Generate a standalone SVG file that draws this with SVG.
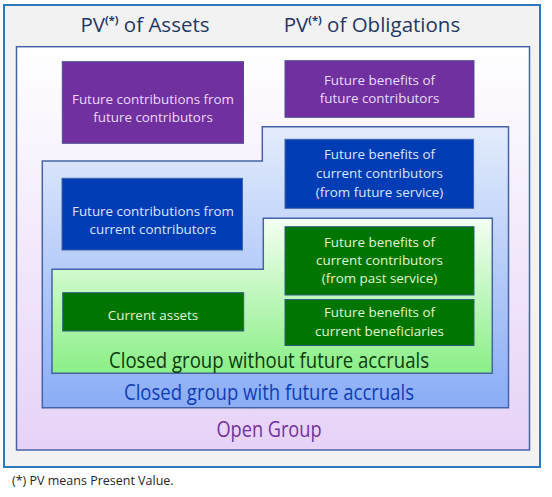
<svg xmlns="http://www.w3.org/2000/svg" width="552" height="497" viewBox="0 0 552 497">
<defs>
<linearGradient id="gOpen" x1="0" y1="0" x2="0" y2="1"><stop offset="0" stop-color="#ffffff"/><stop offset="1" stop-color="#e6d2f7"/></linearGradient>
<linearGradient id="gBlue" x1="0" y1="0" x2="0" y2="1"><stop offset="0" stop-color="#e3ecfc"/><stop offset="1" stop-color="#8aadf6"/></linearGradient>
<linearGradient id="gGreen" x1="0" y1="0" x2="0" y2="1"><stop offset="0" stop-color="#f4fff2"/><stop offset="1" stop-color="#8aef86"/></linearGradient>
<style>
text{font-family:"Open Sans","Liberation Sans",sans-serif;text-anchor:middle}
.title{font-size:20.5px;fill:#1f3864}
.sup{font-size:11px;font-weight:bold}
.node text{font-size:13.4px}
.purple rect{fill:#7030a0;stroke:#4a4f96;stroke-width:1}
.purple text{fill:#eadcf6}
.blue rect{fill:#003cb4;stroke:#3c62a6;stroke-width:1}
.blue text{fill:#dce6ff}
.green rect{fill:#007500;stroke:#2f5f86;stroke-width:1}
.green text{fill:#e0f5d0}
.grp{stroke:#4663a6;stroke-width:1.5}
.lbl{font-size:21px}
</style>
</defs>
<rect x="4" y="5" width="536" height="462" fill="#f2f2f2" stroke="#2e78c0" stroke-width="2"/>
<text class="title" x="145" y="32">PV<tspan class="sup" dy="-8">(*)</tspan><tspan dy="8"> of Assets</tspan></text>
<text class="title" x="372" y="32">PV<tspan class="sup" dy="-8">(*)</tspan><tspan dy="8"> of Obligations</tspan></text>

<g id="open-group">
<rect class="grp" x="16.5" y="46.7" width="513" height="403.3" fill="url(#gOpen)"/>
<text class="lbl" x="269" y="436.7" fill="#7030a0" textLength="105" lengthAdjust="spacingAndGlyphs">Open Group</text>
</g>
<g id="closed-with">
<path class="grp" d="M42.3,161 H262.3 V126.7 H508.5 V407.7 H42.3 Z" fill="url(#gBlue)"/>
<text class="lbl" x="269" y="400" fill="#0d3db5" textLength="290" lengthAdjust="spacingAndGlyphs">Closed group with future accruals</text>
</g>
<g id="closed-without">
<path class="grp" d="M52,269.3 H263.3 V218.3 H492.3 V373.3 H52 Z" fill="url(#gGreen)"/>
<text class="lbl" x="269" y="368.3" fill="#0d3a10" textLength="320" lengthAdjust="spacingAndGlyphs">Closed group without future accruals</text>
</g>

<g id="n-fut-contrib-future" class="node purple">
<rect x="62.3" y="61.7" width="181.2" height="81.6"/>
<text x="153" y="104.3">Future contributions from</text>
<text x="153" y="122.3">future contributors</text>
</g>
<g id="n-ben-future" class="node purple">
<rect x="285" y="60.7" width="189" height="56.6"/>
<text x="379.5" y="85">Future benefits of</text>
<text x="379.5" y="103.3">future contributors</text>
</g>
<g id="n-ben-current-future" class="node blue">
<rect x="285" y="139.3" width="188.6" height="69"/>
<text x="379.5" y="159.3">Future benefits of</text>
<text x="379.5" y="178.3">current contributors</text>
<text x="379.5" y="197.3">(from future service)</text>
</g>
<g id="n-contrib-current" class="node blue">
<rect x="62" y="178.3" width="180.5" height="71.7"/>
<text x="153" y="215.7">Future contributions from</text>
<text x="153" y="233.5">current contributors</text>
</g>
<g id="n-ben-current-past" class="node green">
<rect x="285" y="226.7" width="189" height="68.3"/>
<text x="379.5" y="246.7">Future benefits of</text>
<text x="379.5" y="265">current contributors</text>
<text x="379.5" y="283.3">(from past service)</text>
</g>
<g id="n-ben-beneficiaries" class="node green">
<rect x="285" y="299.5" width="189" height="46"/>
<text x="379.5" y="316.7">Future benefits of</text>
<text x="379.5" y="335.7">current beneficiaries</text>
</g>
<g id="n-current-assets" class="node green">
<rect x="62.7" y="292.7" width="181" height="38.3"/>
<text x="153" y="320">Current assets</text>
</g>
<g id="connectors"></g>
<text x="12" y="485" style="text-anchor:start;font-size:12.5px;fill:#262626">(*) PV means Present Value.</text>
</svg>
